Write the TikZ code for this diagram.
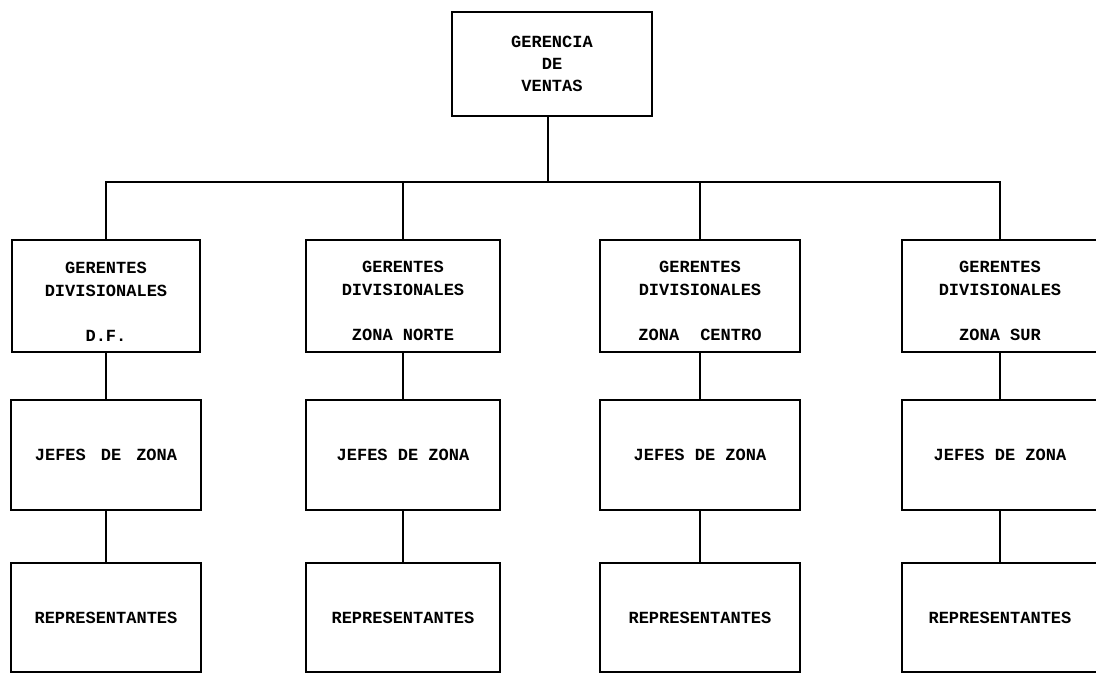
\documentclass[tikz,border=0pt]{standalone}
\usepackage{fontspec}
\setmonofont{Liberation Mono}
\newcommand{\toplift}{\rule{0pt}{22pt}}
\begin{document}
\begin{tikzpicture}[x=1pt,y=-1pt,
  box/.style={draw=black, line width=2.5pt, rectangle, inner sep=0pt, align=center,
    text=black, font=\ttfamily\bfseries\fontsize{17}{23}\selectfont},
  topbox/.style={box, minimum width=200pt, minimum height=104pt, font=\ttfamily\bfseries\fontsize{17}{22}\selectfont},
  divbox/.style={box, minimum width=188pt, minimum height=112pt},
  jefbox/.style={box, minimum width=190pt, minimum height=110pt},
  repbox/.style={box, minimum width=190pt, minimum height=109pt},
  link/.style={line width=2.7pt, line cap=rect}]
\path[use as bounding box] (0,0) rectangle (1096,674);
\clip (0,0) rectangle (1096,674);

% top
\node[topbox] (top) at (552,64) {GERENCIA\\DE\\VENTAS};

% row 1
\node[divbox] (g1) at (106,296) {\toplift GERENTES\\DIVISIONALES\\[22pt]D.F.};
\node[divbox, minimum width=194pt] (g2) at (403,296) {\toplift GERENTES\\DIVISIONALES\\[22pt]ZONA NORTE};
\node[divbox, minimum width=200pt] (g3) at (700,296) {\toplift GERENTES\\DIVISIONALES\\[22pt]ZONA\hspace{21pt}CENTRO};
\node[divbox, minimum width=196pt] (g4) at (1000,296) {\toplift GERENTES\\DIVISIONALES\\[22pt]ZONA SUR};

% row 2
\node[jefbox] (j1) at (106,455) {JEFES\hspace{15pt}DE\hspace{15pt}ZONA};
\node[jefbox, minimum width=194pt] (j2) at (403,455) {JEFES DE ZONA};
\node[jefbox, minimum width=200pt] (j3) at (700,455) {JEFES DE ZONA};
\node[jefbox, minimum width=196pt] (j4) at (1000,455) {JEFES DE ZONA};

% row 3
\node[repbox] (r1) at (106,617.5) {REPRESENTANTES};
\node[repbox, minimum width=194pt] (r2) at (403,617.5) {REPRESENTANTES};
\node[repbox, minimum width=200pt] (r3) at (700,617.5) {REPRESENTANTES};
\node[repbox, minimum width=196pt] (r4) at (1000,617.5) {REPRESENTANTES};

% connectors
\coordinate (bar) at (548,182);
\draw[link] ([xshift=-4pt]top.south) -- (bar);
\draw[link] (g1.north) |- (bar);
\draw[link] (g4.north) |- (bar);
\draw[link] (g2.north) -- (g2.north |- bar);
\draw[link] (g3.north) -- (g3.north |- bar);
\foreach \i in {1,2,3,4}{
  \draw[link] (g\i.south) -- (j\i.north);
  \draw[link] (j\i.south) -- (r\i.north);
}
\end{tikzpicture}
\end{document}
